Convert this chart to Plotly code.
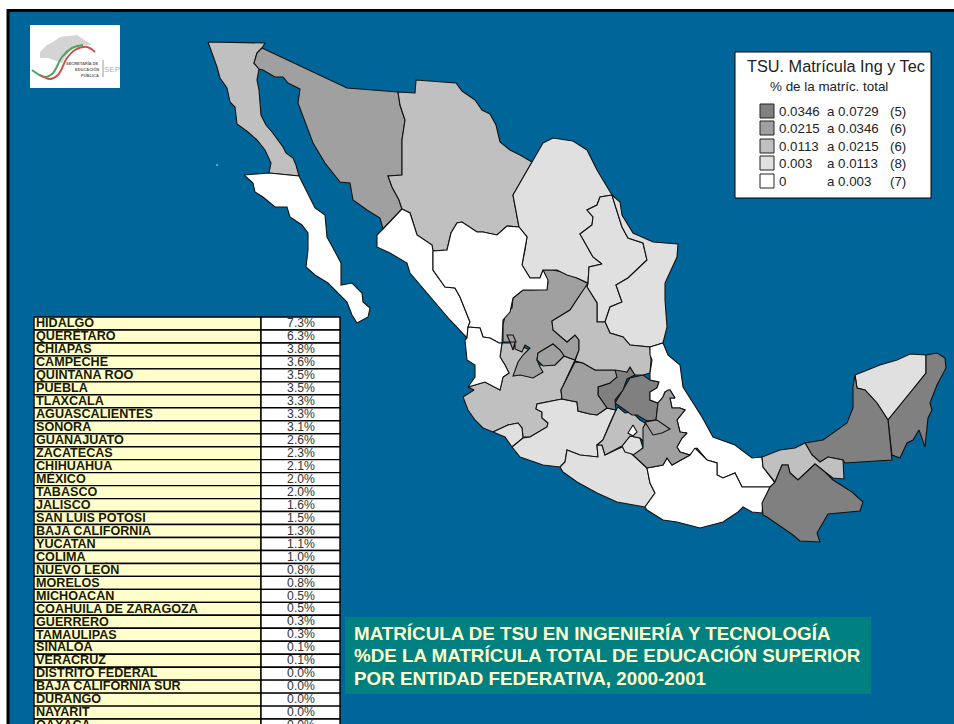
import plotly.graph_objects as go

# ---------- table data (as printed in the reference) ----------
STATE_NAMES = ["HIDALGO","QUERÉTARO","CHIAPAS","CAMPECHE","QUINTANA ROO","PUEBLA","TLAXCALA","AGUASCALIENTES",
               "SONORA","GUANAJUATO","ZACATECAS","CHIHUAHUA","MÉXICO","TABASCO","JALISCO","SAN LUIS POTOSI",
               "BAJA CALIFORNIA","YUCATAN","COLIMA","NUEVO LEÓN","MORELOS","MICHOACÁN","COAHUILA DE ZARAGOZA",
               "GUERRERO","TAMAULIPAS","SINALOA","VERACRUZ","DISTRITO FEDERAL","BAJA CALIFORNIA SUR","DURANGO",
               "NAYARIT","OAXACA"]
STATE_PCT = [7.3,6.3,3.8,3.6,3.5,3.5,3.3,3.3,3.1,2.6,2.3,2.1,2.0,2.0,1.6,1.5,1.3,1.1,1.0,0.8,0.8,0.5,0.5,
             0.3,0.3,0.1,0.1,0.0,0.0,0.0,0.0,0.0]

# ---------- legend data ----------
LEGEND_FROM = ["0.0346","0.0215","0.0113","0.003","0"]
LEGEND_TO = ["a 0.0729","a 0.0346","a 0.0215","a 0.0113","a 0.003"]
LEGEND_COUNT = [5,6,6,8,7]
LEGEND_COLORS = ["#808080","#a0a0a0","#c0c0c0","#e0e0e0","#ffffff"]

TITLE_LINES = ["MATRÍCULA DE TSU EN INGENIERÍA Y TECNOLOGÍA",
               "%DE LA MATRÍCULA TOTAL DE EDUCACIÓN SUPERIOR",
               "POR ENTIDAD FEDERATIVA, 2000-2001"]

# ---------- state outlines ----------
BAJA_CALIFORNIA = [(208,42),(265,43),(262,48),(257,53),(254,63),(259,69),(257,80),(259,90),(261,115),(266,125),(272,132),(283,147),(286,153),(293,158),(296,165),(299,176),(269,173),(271,163),(265,150),(257,140),(248,132),(237,124),(235,107),(230,102),(227,88),(220,78),(217,67),(213,55)]
BAJA_CALIFORNIA_SUR = [(244,175),(263,173),(269,173),(299,176),(305,188),(315,208),(325,215),(327,237),(333,248),(341,263),(341,285),(352,283),(362,293),(363,302),(370,308),(368,317),(357,323),(352,315),(347,302),(338,293),(328,283),(315,275),(306,267),(308,250),(308,233),(302,225),(290,217),(287,207),(275,207),(263,197),(255,192),(253,183),(247,178)]
SONORA = [(262,48),(347,88),(398,92),(400,105),(405,120),(402,140),(402,175),(388,176),(392,187),(399,200),(402,209),(383,229),(380,218),(367,210),(353,200),(350,183),(340,182),(325,163),(313,143),(305,122),(298,103),(300,89),(288,83),(283,77),(275,77),(263,70),(259,69),(254,63),(257,53)]
CHIHUAHUA = [(398,92),(415,93),(416,80),(456,83),(462,91),(475,100),(482,110),(490,114),(496,125),(500,142),(510,150),(520,155),(532,162),(513,195),(519,227),(507,226),(497,235),(483,232),(477,232),(462,222),(457,223),(451,233),(447,250),(433,251),(432,245),(417,235),(410,213),(402,209),(399,200),(392,187),(388,176),(402,175),(402,140),(405,120),(400,105)]
COAHUILA = [(532,162),(543,143),(553,138),(573,141),(587,150),(597,170),(612,195),(600,197),(597,205),(587,210),(593,217),(592,225),(580,234),(587,247),(593,257),(602,264),(589,267),(588,283),(577,278),(567,275),(557,270),(543,270),(540,278),(530,278),(522,265),(525,250),(527,237),(519,227),(513,195)]
NUEVO_LEON = [(612,195),(600,197),(597,205),(587,210),(593,217),(592,225),(580,234),(587,247),(593,257),(602,264),(589,267),(588,283),(587,287),(597,303),(597,322),(605,322),(610,307),(622,302),(616,285),(628,278),(647,260),(643,243),(628,238),(622,227),(615,205)]
TAMAULIPAS = [(612,195),(620,202),(622,215),(633,233),(653,242),(678,244),(677,257),(665,283),(665,300),(667,327),(663,343),(650,347),(630,345),(623,337),(610,333),(605,322),(610,307),(622,302),(616,285),(628,278),(647,260),(643,243),(628,238),(622,227),(615,205)]
SINALOA = [(402,209),(410,213),(417,235),(432,245),(433,251),(433,270),(445,287),(455,288),(460,297),(470,322),(468,327),(467,338),(450,320),(427,293),(410,273),(407,263),(390,253),(377,247),(377,235),(383,229)]
DURANGO = [(433,251),(447,250),(451,233),(457,223),(462,222),(477,232),(483,232),(497,235),(507,226),(519,227),(527,237),(525,250),(522,265),(530,278),(540,278),(543,270),(548,280),(547,290),(523,290),(513,298),(510,312),(503,320),(502,343),(499,343),(490,338),(483,337),(480,328),(468,327),(470,322),(460,297),(455,288),(445,287),(433,270)]
NAYARIT = [(468,327),(480,328),(483,337),(490,338),(499,343),(502,343),(500,357),(505,365),(509,373),(503,377),(500,390),(485,382),(468,387),(475,377),(475,365),(467,360),(465,340),(467,338)]
JALISCO = [(468,387),(485,382),(500,390),(503,377),(509,373),(505,365),(500,357),(502,343),(513,343),(530,350),(530,365),(555,365),(564,356),(575,360),(561,390),(562,399),(537,404),(536,409),(542,412),(542,418),(548,423),(547,427),(530,437),(523,437),(522,428),(518,423),(508,425),(493,432),(483,428),(475,420),(468,410),(463,397),(474,390)]
ZACATECAS = [(589,284),(580,295),(570,310),(552,321),(553,330),(567,342),(575,335),(579,340),(579,350),(575,360),(564,356),(560,350),(553,344),(538,353),(537,360),(540,367),(543,372),(533,378),(520,375),(513,376),(518,362),(523,355),(530,348),(525,345),(522,352),(515,349),(515,342),(513,350),(510,342),(507,335),(513,335),(516,342),(503,342),(503,325),(506,312),(512,308),(513,298),(523,290),(533,290),(547,289),(548,282),(543,270),(553,270),(567,273),(587,283)]
AGUASCALIENTES = [(553,344),(560,350),(564,356),(555,365),(543,366),(537,360),(538,353)]
COLIMA = [(493,432),(508,425),(518,423),(522,428),(523,438),(512,447),(505,437)]
MICHOACAN = [(512,447),(523,438),(530,437),(547,427),(548,423),(542,418),(542,412),(536,409),(537,404),(562,399),(577,402),(578,411),(590,414),(597,415),(607,408),(616,410),(610,423),(603,440),(597,445),(598,457),(580,455),(567,450),(565,462),(560,467),(543,465),(520,457)]
GUERRERO = [(560,467),(565,462),(567,450),(580,455),(598,457),(597,445),(602,445),(605,455),(622,447),(633,455),(647,468),(650,483),(655,493),(645,507),(617,502),(597,493),(577,482),(563,472)]
MORELOS = [(622,446),(630,436),(640,438),(643,448),(635,455),(625,452)]
MEXICO = [(618,407),(625,413),(632,412),(640,420),(645,423),(644,442),(640,438),(630,436),(622,446),(605,455),(602,445),(597,445),(603,440),(610,423),(616,410)]
DISTRITO_FEDERAL = [(633,425),(637,432),(633,436),(628,433)]
HIDALGO = [(615,403),(623,390),(630,378),(643,375),(650,380),(659,382),(657,388),(650,392),(650,400),(658,403),(656,420),(647,421),(637,415),(632,415),(622,408)]
QUERETARO = [(615,368),(627,372),(630,367),(635,375),(627,379),(623,390),(615,400),(616,410),(607,408),(598,395),(598,387),(610,383),(613,377)]
GUANAJUATO = [(575,362),(583,363),(595,370),(615,370),(617,377),(610,383),(598,387),(598,395),(607,408),(597,415),(590,414),(578,411),(577,402),(562,399),(561,390)]
SAN_LUIS_POTOSI = [(588,283),(587,287),(597,303),(597,322),(605,322),(610,333),(623,337),(630,345),(650,347),(651,360),(650,373),(643,375),(635,375),(630,367),(627,372),(615,370),(595,370),(583,363),(575,361),(579,350),(579,340),(575,335),(567,342),(553,330),(552,321),(570,310),(580,295)]
VERACRUZ = [(650,347),(663,343),(668,355),(680,365),(683,387),(702,417),(713,437),(735,445),(752,458),(762,457),(763,467),(775,483),(770,487),(742,487),(735,473),(723,478),(717,475),(717,463),(707,460),(697,448),(690,455),(680,452),(677,447),(682,438),(687,433),(680,432),(677,420),(685,410),(680,408),(672,408),(670,398),(675,398),(670,390),(665,392),(663,397),(658,403),(650,400),(650,392),(657,388),(659,382),(650,380),(650,373),(652,360),(650,355)]
OAXACA = [(695,448),(707,460),(717,463),(717,475),(723,478),(735,473),(742,487),(770,487),(763,503),(762,513),(752,512),(743,507),(738,512),(723,522),(700,528),(677,522),(663,520),(647,510),(645,507),(655,493),(650,483),(647,468),(653,467),(663,465),(667,458),(672,465),(690,455)]
PUEBLA = [(668,390),(670,390),(675,398),(670,398),(672,408),(680,408),(685,410),(677,420),(680,432),(687,433),(682,438),(677,447),(680,452),(690,455),(672,465),(667,458),(663,465),(653,467),(647,468),(633,455),(643,448),(643,428),(647,421),(656,420),(658,403),(663,397),(665,392)]
TLAXCALA = [(645,422),(657,420),(670,429),(662,433),(653,435),(648,427)]
YUCATAN = [(855,375),(867,370),(880,365),(897,360),(910,354),(926,355),(926,373),(907,397),(888,420),(877,403),(865,390),(857,388)]
QUINTANA_ROO = [(926,355),(937,353),(945,358),(946,368),(937,385),(930,403),(932,410),(928,418),(925,447),(919,430),(913,440),(907,443),(900,458),(892,455),(888,420),(907,397),(926,373)]
CAMPECHE = [(855,375),(857,388),(865,390),(877,403),(888,420),(892,460),(845,463),(843,460),(828,457),(820,462),(812,455),(805,443),(823,440),(847,423),(853,408),(853,387)]
TABASCO = [(762,457),(780,450),(795,448),(805,443),(812,455),(820,462),(828,457),(843,460),(844,479),(833,478),(825,472),(815,464),(798,480),(790,473),(788,465),(782,465),(775,482),(763,467)]
CHIAPAS = [(775,482),(782,465),(788,465),(790,473),(798,480),(815,464),(825,472),(833,480),(852,492),(863,502),(860,511),(828,514),(817,533),(820,542),(800,541),(793,535),(767,517),(763,515),(762,503),(770,487)]

OUTLINES = {"BAJA CALIFORNIA":BAJA_CALIFORNIA,"BAJA CALIFORNIA SUR":BAJA_CALIFORNIA_SUR,"SONORA":SONORA,"CHIHUAHUA":CHIHUAHUA,
            "COAHUILA DE ZARAGOZA":COAHUILA,"NUEVO LEÓN":NUEVO_LEON,"TAMAULIPAS":TAMAULIPAS,"SINALOA":SINALOA,"DURANGO":DURANGO,
            "NAYARIT":NAYARIT,"JALISCO":JALISCO,"ZACATECAS":ZACATECAS,"AGUASCALIENTES":AGUASCALIENTES,"COLIMA":COLIMA,
            "MICHOACÁN":MICHOACAN,"GUERRERO":GUERRERO,"MORELOS":MORELOS,"MÉXICO":MEXICO,"DISTRITO FEDERAL":DISTRITO_FEDERAL,
            "HIDALGO":HIDALGO,"QUERÉTARO":QUERETARO,"GUANAJUATO":GUANAJUATO,"SAN LUIS POTOSI":SAN_LUIS_POTOSI,"VERACRUZ":VERACRUZ,
            "OAXACA":OAXACA,"PUEBLA":PUEBLA,"TLAXCALA":TLAXCALA,"YUCATAN":YUCATAN,"QUINTANA ROO":QUINTANA_ROO,"CAMPECHE":CAMPECHE,
            "TABASCO":TABASCO,"CHIAPAS":CHIAPAS}
DRAW_ORDER = ["JALISCO","ZACATECAS","AGUASCALIENTES"]
DRAW_ORDER += [n for n in OUTLINES if n not in DRAW_ORDER and n not in ("DISTRITO FEDERAL","TLAXCALA")]
DRAW_ORDER += ["DISTRITO FEDERAL","TLAXCALA"]

# class of each state: the table is ranked, the legend gives the class sizes
color_of = {}
pos = 0
for count, col in zip(LEGEND_COUNT, LEGEND_COLORS):
    for name in STATE_NAMES[pos:pos+count]:
        color_of[name] = col
    pos += count

fig = go.Figure()
BLUE, TEAL, CREAM = "#006699", "#008080", "#ffffcc"

# map
for name in DRAW_ORDER:
    pts = OUTLINES[name]
    fig.add_trace(go.Scatter(x=[p[0] for p in pts]+[pts[0][0]], y=[p[1] for p in pts]+[pts[0][1]],
                             mode="lines", fill="toself", fillcolor=color_of[name], name=name,
                             line=dict(color="#111111", width=1.1), hoverinfo="name", showlegend=False))

# table
ROW_H, TOP = 12.97, 317
row_y = [TOP + ROW_H*(i+0.5) for i in range(len(STATE_NAMES))]
text_y = [y + 0.6 for y in row_y]
fig.add_trace(go.Bar(y=row_y, x=[227]*len(row_y), base=34, width=ROW_H, orientation="h", marker=dict(color=CREAM, line=dict(color="#000000", width=1.4)), hoverinfo="skip", showlegend=False))
fig.add_trace(go.Bar(y=row_y, x=[79]*len(row_y), base=261, width=ROW_H, orientation="h", marker=dict(color="#ffffff", line=dict(color="#000000", width=1.4)), hoverinfo="skip", showlegend=False))
fig.add_trace(go.Scatter(x=[36]*len(row_y), y=text_y, mode="text", text=STATE_NAMES, textposition="middle right",
                         textfont=dict(family="Liberation Sans", size=12.6, color="#1a1a00", weight="bold"), hoverinfo="skip", showlegend=False))
fig.add_trace(go.Scatter(x=[301]*len(row_y), y=text_y, mode="text", text=[f"{v:.1f}%" for v in STATE_PCT], textposition="middle center",
                         textfont=dict(family="Liberation Sans", size=12.2, color="#333333"), hoverinfo="skip", showlegend=False))

# legend swatches
LEG_Y = [111,128,146,163,181]
fig.add_trace(go.Scatter(x=[767]*5, y=LEG_Y, mode="markers", marker=dict(symbol="square", size=14, color=LEGEND_COLORS, line=dict(color="#222222", width=1)), hoverinfo="skip", showlegend=False))

shapes = [
    dict(type="rect", x0=8, y0=10.5, x1=1000, y1=800, fillcolor=BLUE, line=dict(color="#000000", width=3), layer="below"),
    dict(type="rect", x0=735, y0=52, x1=931, y1=198, fillcolor="#ffffff", line=dict(color="#000000", width=1), layer="below"),
    dict(type="rect", x0=345, y0=617, x1=871, y1=694, fillcolor=TEAL, line=dict(width=0), layer="below"),
    dict(type="rect", x0=30, y0=25, x1=120, y1=88, fillcolor="#ffffff", line=dict(width=0), layer="below"),
    dict(type="line", x0=103, y0=60, x1=103, y1=77, line=dict(color="#999999", width=1)),
]

def txt(x, y, s, size, color="#222222", anchor="left", bold=False, family="Liberation Sans"):
    return dict(x=x, y=y, xref="x", yref="y", text=f"<b>{s}</b>" if bold else s, showarrow=False, xanchor=anchor, yanchor="middle",
                font=dict(family=family, size=size, color=color))

ann = [txt(835.5, 66, "TSU. Matrícula Ing y Tec", 16.3, anchor="center"),
       txt(829, 86, "% de la matríc. total", 13.4, anchor="center")]
for y, a, b, c in zip(LEG_Y, LEGEND_FROM, LEGEND_TO, LEGEND_COUNT):
    ann += [txt(777, y, a, 13.3), txt(825, y, b, 13.3), txt(888, y, f"({c})", 13.3)]
for y, s in zip([633, 655, 678], TITLE_LINES):
    ann.append(txt(351.5, y, s, 18.8, color=CREAM, bold=True))

# logo
LOGO_BLOB = [(40,52),(47,45),(53,42),(60,37),(77,35),(92,45),(83,45),(70,50),(62,63),(53,60),(48,58),(40,58)]
LOGO_GREEN = [(32,70),(45,77),(53,73),(62,57),(72,48),(83,45)]
LOGO_RED = [(40,75),(50,79),(58,75),(67,58),(75,50),(87,47),(95,52)]
fig.add_trace(go.Scatter(x=[p[0] for p in LOGO_BLOB], y=[p[1] for p in LOGO_BLOB], fill="toself", fillcolor="#d4d4d4", mode="none", hoverinfo="skip", showlegend=False))
fig.add_trace(go.Scatter(x=[p[0] for p in LOGO_GREEN], y=[p[1] for p in LOGO_GREEN], mode="lines", line=dict(color="#4fa35f", width=2, shape="spline"), hoverinfo="skip", showlegend=False))
fig.add_trace(go.Scatter(x=[p[0] for p in LOGO_RED], y=[p[1] for p in LOGO_RED], mode="lines", line=dict(color="#c8524a", width=2, shape="spline"), hoverinfo="skip", showlegend=False))
ann += [txt(101, 63, "SECRETARÍA DE", 4, color="#666666", anchor="right", bold=True),
        txt(101, 69, "EDUCACIÓN", 4, color="#666666", anchor="right", bold=True),
        txt(101, 75, "PÚBLICA", 4, color="#666666", anchor="right", bold=True),
        txt(111.5, 69, "SEP", 8, color="#b0b0b0", anchor="center")]

# small island off the Pacific coast
ISLAND_X, ISLAND_Y = [217], [165]
fig.add_trace(go.Scatter(x=ISLAND_X, y=ISLAND_Y, mode="markers", marker=dict(color="#ffffff", size=1.5), hoverinfo="skip", showlegend=False))

axis = dict(visible=False, fixedrange=True, showgrid=False, zeroline=False)
fig.update_layout(width=954, height=724, margin=dict(l=0, r=0, t=0, b=0), paper_bgcolor="#ffffff", plot_bgcolor="#ffffff",
                  xaxis=dict(range=[0, 954], **axis), yaxis=dict(range=[724, 0], **axis),
                  barmode="overlay", shapes=shapes, annotations=ann, showlegend=False)
fig.write_html("out.html", config=dict(displayModeBar=False),
               post_script="document.body.style.margin='0';document.body.style.overflow='hidden';")
